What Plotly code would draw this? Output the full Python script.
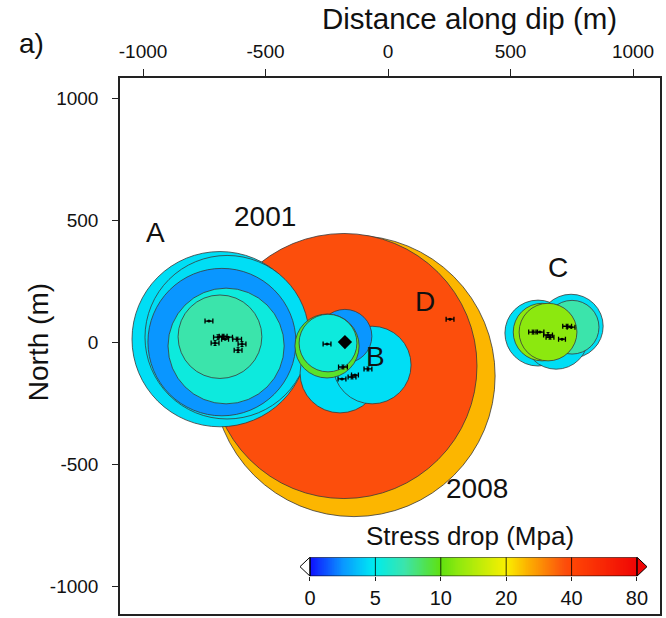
import numpy as np
import plotly.graph_objects as go

FONT = "Liberation Sans, Arial, sans-serif"

# ---- circular source patches (centre E, centre N, radius in m, stress drop in MPa) ----
# big events (2008 and 2001)
big_x = [-139, -180]
big_y = [-139, -98]
big_r = [576, 543]
big_sd = [26.0, 38.0]

# cluster A
a_x = [-686, -657, -678, -661, -686]
a_y = [12, 20, 0, -16, 22]
a_r = [359, 335, 302, 237, 171]
a_sd = [4.5, 4.5, 2.5, 5.5, 7.2]

# cluster B
b_x = [-196, -65, -176, -249, -245]
b_y = [-127, -94, 24, -16, -4]
b_r = [163, 159, 110, 131, 118]
b_sd = [4.5, 4.5, 2.5, 9.5, 5.5]

# cluster C
c_x = [612, 747, 686, 751, 629, 653]
c_y = [37, 65, 20, 61, 41, 41]
c_r = [135, 131, 131, 110, 118, 118]
c_sd = [4.5, 4.5, 4.5, 7.2, 12.5, 12.5]

# ---- relocated hypocentres with horizontal / vertical errors (m) ----
ev_x = [-731, -694, -673, -653, -706, -616, -596, -612, -665,
        -249, -184, -188, -147, -135, -82,
        592, 620, 653, 661, 710, 731, 747,
        253]
ev_y = [86, 20, 24, 20, -4, 12, -8, -33, 12,
        -8, -102, -151, -143, -135, -110,
        41, 41, 29, 20, 12, 65, 61,
        94]
ev_ex = [16, 18, 16, 18, 16, 18, 16, 16, 14,
         16, 18, 16, 16, 14, 16,
         18, 16, 18, 16, 14, 18, 16,
         16]
ev_ey = [0, 10, 8, 0, 10, 8, 10, 10, 0,
         0, 8, 0, 8, 0, 8,
         8, 0, 10, 8, 0, 8, 0,
         0]

# mainshock hypocentre
ms_x = [-176]
ms_y = [0]

# ---- labels ----
lab_text = ["A", "2001", "D", "B", "C", "2008"]
lab_x = [-951, -502, 151, -53, 694, 363]
lab_y = [449, 514, 167, -61, 306, -600]

# ---- axis ticks ----
tick_vals = [-1000, -500, 0, 500, 1000]
tick_text = ["-1000", "-500", "0", "500", "1000"]

# ---- colour palette (stress drop) ----
cb_values = [0, 5, 10, 20, 40, 80]
cb_labels = ["0", "5", "10", "20", "40", "80"]
pal_t = [0.0, 0.5, 0.9, 1.0, 1.45, 2.0, 2.25, 3.0, 3.3, 3.9, 4.0, 5.0]
pal_rgb = [(15, 15, 255), (10, 150, 255), (0, 222, 245), (0, 236, 236),
           (60, 228, 170), (95, 225, 15), (140, 232, 15), (250, 240, 0),
           (252, 182, 0), (252, 78, 12), (255, 70, 5), (240, 5, 5)]


def sd_to_t(s):
    return float(np.interp(s, cb_values, np.arange(len(cb_values))))


def t_to_rgb(t):
    arr = np.array(pal_rgb, dtype=float)
    r = np.interp(t, pal_t, arr[:, 0])
    g = np.interp(t, pal_t, arr[:, 1])
    b = np.interp(t, pal_t, arr[:, 2])
    return f"rgb({int(round(r))},{int(round(g))},{int(round(b))})"


def sd_color(s):
    return t_to_rgb(sd_to_t(s))


fig = go.Figure()

shapes = []


def add_circles(xs, ys, rs, sds):
    for x, y, r, s in zip(xs, ys, rs, sds):
        shapes.append(dict(
            type="circle", xref="x", yref="y",
            x0=x - r, x1=x + r, y0=y - r, y1=y + r,
            fillcolor=sd_color(s), line=dict(color="#3a3a3a", width=0.8),
            layer="below"))


add_circles(big_x, big_y, big_r, big_sd)
add_circles(a_x, a_y, a_r, a_sd)
add_circles(b_x, b_y, b_r, b_sd)
add_circles(c_x, c_y, c_r, c_sd)

# hypocentres
fig.add_trace(go.Scatter(
    x=ev_x, y=ev_y, mode="markers",
    marker=dict(size=3, color="black"),
    error_x=dict(type="data", array=ev_ex, width=2.5, thickness=1.3, color="black"),
    error_y=dict(type="data", array=ev_ey, width=1.5, thickness=1.0, color="black"),
    showlegend=False, hoverinfo="skip"))

fig.add_trace(go.Scatter(
    x=ms_x, y=ms_y, mode="markers",
    marker=dict(symbol="diamond", size=11, color="black"),
    showlegend=False, hoverinfo="skip"))

# ---- colour bar drawn on its own small axes ----
n = len(cb_values) - 1
edges = np.linspace(0, n, 501)
centres = 0.5 * (edges[:-1] + edges[1:])
cscale = [[t / n, t_to_rgb(t)] for t in np.linspace(0, n, 101)]
fig.add_trace(go.Heatmap(
    x=edges, y=[0, 1], z=[centres], zmin=0, zmax=n,
    colorscale=cscale, showscale=False, hoverinfo="skip",
    xaxis="x2", yaxis="y2"))

tri = 0.153
shapes.append(dict(type="path", xref="x2", yref="y2",
                   path=f"M 0,0 L {-tri},0.5 L 0,1 Z",
                   fillcolor="white", line=dict(color="black", width=1)))
shapes.append(dict(type="path", xref="x2", yref="y2",
                   path=f"M {n},0 L {n + tri},0.5 L {n},1 Z",
                   fillcolor=t_to_rgb(n), line=dict(color="black", width=1)))
for k in range(1, n):
    shapes.append(dict(type="line", xref="x2", yref="y2",
                       x0=k, x1=k, y0=0, y1=1,
                       line=dict(color="black", width=0.8)))
shapes.append(dict(type="rect", xref="x2", yref="y2",
                   x0=0, x1=n, y0=0, y1=1,
                   line=dict(color="black", width=1)))

annotations = []
for t, x, y in zip(lab_text, lab_x, lab_y):
    annotations.append(dict(text=t, x=x, y=y, xref="x", yref="y",
                            xanchor="center", yanchor="middle",
                            showarrow=False,
                            font=dict(family=FONT, size=28, color="#111")))

annotations += [
    dict(text="Distance along dip (m)", x=0.648, y=1.111, xref="paper", yref="paper",
         xanchor="center", yanchor="middle",
         showarrow=False, font=dict(family=FONT, size=29.5, color="#111")),
    dict(text="North (m)", x=-0.152, y=0.507, xref="paper", yref="paper",
         xanchor="center", yanchor="middle",
         textangle=-90, showarrow=False,
         font=dict(family=FONT, size=28, color="#111")),
    dict(text="a)", x=-0.163, y=1.064, xref="paper", yref="paper",
         xanchor="center", yanchor="middle",
         showarrow=False, font=dict(family=FONT, size=28, color="#111")),
    dict(text="Stress drop (Mpa)", x=0.648, y=0.145, xref="paper", yref="paper",
         xanchor="center", yanchor="middle",
         showarrow=False, font=dict(family=FONT, size=26, color="#111")),
]

fig.update_layout(
    width=666, height=618,
    margin=dict(l=120, r=6, t=78, b=2),
    paper_bgcolor="white", plot_bgcolor="white",
    shapes=shapes, annotations=annotations,
    xaxis=dict(side="top", range=[-1094, 1110],
               tickvals=tick_vals, ticktext=tick_text,
               ticks="outside", ticklen=7, tickcolor="#222", tickwidth=1,
               ticklabelstandoff=4,
               showline=True, linecolor="#222", linewidth=1.5, mirror=True,
               showgrid=False, zeroline=False,
               tickfont=dict(family=FONT, size=19, color="#111")),
    yaxis=dict(range=[-1114, 1082],
               tickvals=tick_vals, ticktext=tick_text,
               ticks="outside", ticklen=6, tickcolor="#222", tickwidth=1,
               ticklabelstandoff=10,
               showline=True, linecolor="#222", linewidth=1.5, mirror=True,
               showgrid=False, zeroline=False,
               tickfont=dict(family=FONT, size=19, color="#111")),
    xaxis2=dict(domain=[0.3333, 0.9759], anchor="y2", range=[-tri, n + tri],
                tickvals=list(range(n + 1)), ticktext=cb_labels,
                ticks="outside", ticklen=4, tickcolor="#222",
                showline=False, showgrid=False, zeroline=False,
                tickfont=dict(family=FONT, size=20, color="#111")),
    yaxis2=dict(domain=[0.0706, 0.106], anchor="x2", range=[0, 1], visible=False),
)

fig.write_html("out.html")
